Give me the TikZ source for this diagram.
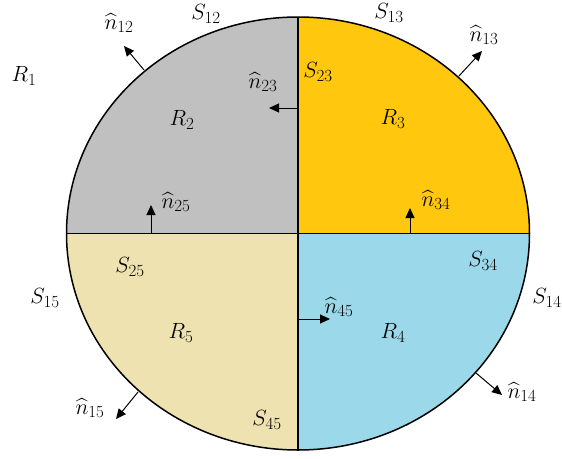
\documentclass[tikz,border=0pt]{standalone}
\usepackage{fix-cm}
\usepackage{amsmath}
\usetikzlibrary{arrows.meta}
\DeclareMathSizes{22}{22}{17}{12}
\definecolor{grauR}{RGB}{192,192,192}
\definecolor{gelbR}{RGB}{255,200,14}
\definecolor{blauR}{RGB}{155,217,234}
\definecolor{beigeR}{RGB}{238,226,176}
\tikzset{
  lbl/.style={inner sep=0pt, font=\fontsize{22}{26}\selectfont},
  normale/.style={line width=1pt, -{Triangle[length=10pt,width=9pt]}}
}
\begin{document}
\begin{tikzpicture}[x=1pt, y=-1pt, line join=round]
  \useasboundingbox (0,0) rectangle (562,458);
  % Gebiete R2 bis R5
  \begin{scope}
    \clip (298,233.5) ellipse [x radius=231.5, y radius=216.5];
    \fill[grauR] (60,10) rectangle (298,233.5);
    \fill[gelbR] (298,10) rectangle (535,233.5);
    \fill[blauR] (298,233.5) rectangle (535,455);
    \fill[beigeR] (60,233.5) rectangle (298,455);
  \end{scope}
  % Trennflaechen und Rand
  \draw[line width=1.5pt] (66.5,233.5) -- (529.5,233.5);
  \draw[line width=1.5pt] (298,17) -- (298,450);
  \draw[line width=1.5pt] (298,233.5) ellipse [x radius=231.5, y radius=216.5];
  % Fusspunkte und Spitzen der Normalen
  \coordinate (f12) at (144,70);  \coordinate (s12) at (124,46);
  \coordinate (f13) at (459,76);  \coordinate (s13) at (482,51);
  \coordinate (f23) at (297,108); \coordinate (s23) at (269,108);
  \coordinate (f25) at (151,233); \coordinate (s25) at (151,205);
  \coordinate (f34) at (410,233); \coordinate (s34) at (410,208);
  \coordinate (f45) at (299,319); \coordinate (s45) at (330,319);
  \coordinate (f14) at (476,373); \coordinate (s14) at (502,395);
  \coordinate (f15) at (138,392); \coordinate (s15) at (116,419);
  \draw[normale] (f12) -- (s12);
  \draw[normale] (f13) -- (s13);
  \draw[normale] (f23) -- (s23);
  \draw[normale] (f25) -- (s25);
  \draw[normale] (f34) -- (s34);
  \draw[normale] (f45) -- (s45);
  \draw[normale] (f14) -- (s14);
  \draw[normale] (f15) -- (s15);
  % Gebiete
  \node[lbl] (r1) at (24,76)   {$R_1$};
  \node[lbl] (r2) at (182,120) {$R_2$};
  \node[lbl] (r3) at (393,119) {$R_3$};
  \node[lbl] (r4) at (393,333) {$R_4$};
  \node[lbl] (r5) at (181,333) {$R_5$};
  % Flaechen
  \node[lbl] (l12) at (206,14)  {$S_{12}$};
  \node[lbl] (l13) at (389,13)  {$S_{13}$};
  \node[lbl] (l23) at (318,72)  {$S_{23}$};
  \node[lbl] (l25) at (130,267) {$S_{25}$};
  \node[lbl] (l15) at (45,298)  {$S_{15}$};
  \node[lbl] (l45) at (267,420) {$S_{45}$};
  \node[lbl] (l34) at (483,261) {$S_{34}$};
  \node[lbl] (l14) at (547,298) {$S_{14}$};
  % Normalen
  \node[lbl] (n12) at (119,23)  {$\widehat{n}_{12}$};
  \node[lbl] (n13) at (484,35)  {$\widehat{n}_{13}$};
  \node[lbl] (n23) at (263,82)  {$\widehat{n}_{23}$};
  \node[lbl] (n25) at (176,202) {$\widehat{n}_{25}$};
  \node[lbl] (n34) at (436,200) {$\widehat{n}_{34}$};
  \node[lbl] (n45) at (339,307) {$\widehat{n}_{45}$};
  \node[lbl] (n14) at (522,392) {$\widehat{n}_{14}$};
  \node[lbl] (n15) at (90,408)  {$\widehat{n}_{15}$};
\end{tikzpicture}
\end{document}
